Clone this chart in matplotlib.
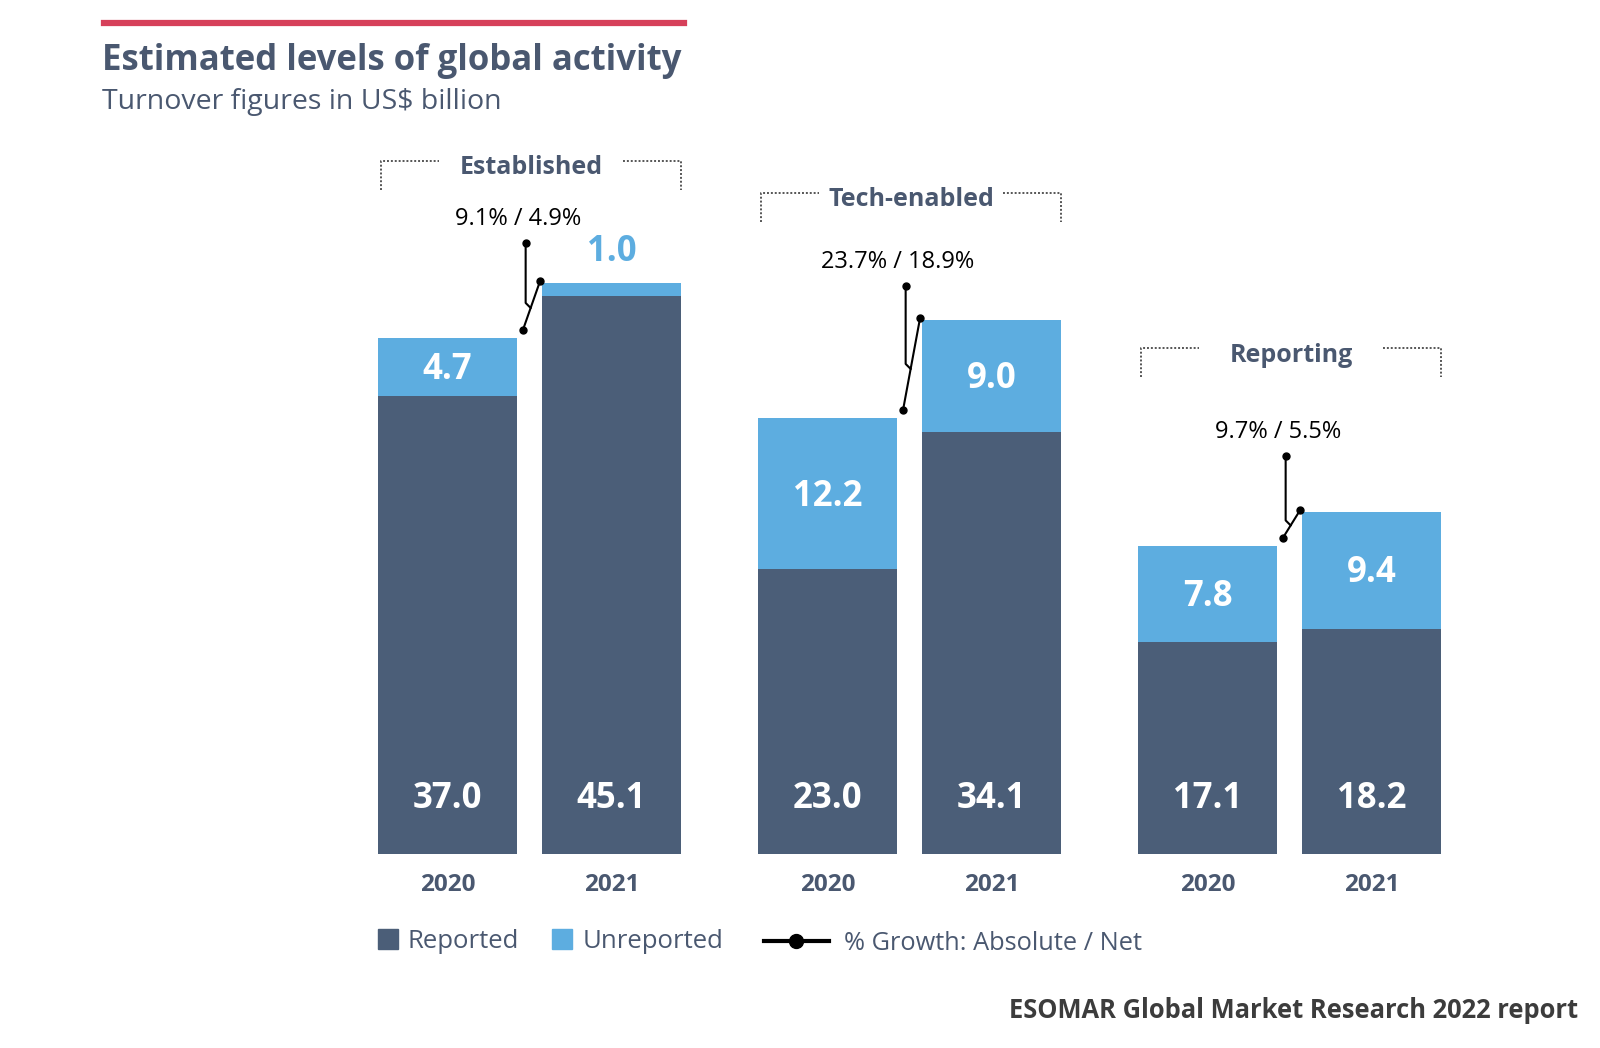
import matplotlib.pyplot as plt
from matplotlib.patches import Rectangle
from matplotlib.lines import Line2D

plt.rcParams['font.family'] = ['Open Sans', 'DejaVu Sans']

# data (US$ billion)
groups = ['Established', 'Tech-enabled', 'Reporting']
years = ['2020', '2021']
reported = [[37.0, 45.1], [23.0, 34.1], [17.1, 18.2]]
unreported = [[4.7, 1.0], [12.2, 9.0], [7.8, 9.4]]
growth = ['9.1% / 4.9%', '23.7% / 18.9%', '9.7% / 5.5%']

DARK = '#4b5e78'
BLUE = '#5dade0'
TXT = '#4a5870'

W, H = 1600, 1048
PX = 12.38       # pixels per billion
BASE = 854       # pixel row of the baseline
BAR_W = 139
X0, GSTEP, YSTEP = 447.5, 380, 164

# per-group layout rows (pixels from top)
growth_row = [219, 262, 432]
bracket_row = [161, 193, 348]


def yp(row):
    return (BASE - row) / PX


fig = plt.figure(figsize=(16, 10.48), dpi=100)
ax = fig.add_axes([0, 0, 1, 1])
ax.set_xlim(0, W)
ax.set_ylim(-(H - BASE) / PX, BASE / PX)
ax.axis('off')

for g in range(3):
    xs = [X0 + g * GSTEP + j * YSTEP for j in range(2)]
    ax.bar(xs, reported[g], width=BAR_W, color=DARK)
    ax.bar(xs, unreported[g], width=BAR_W, bottom=reported[g], color=BLUE)
    tops = [reported[g][j] + unreported[g][j] for j in range(2)]
    for j in range(2):
        ax.text(xs[j], yp(799), f'{reported[g][j]:.1f}', color='white',
                fontsize=25, fontweight='bold', ha='center', va='center')
        if unreported[g][j] >= 2:
            ax.text(xs[j], reported[g][j] + unreported[g][j] / 2 - 3 / PX,
                    f'{unreported[g][j]:.1f}', color='white', fontsize=25,
                    fontweight='bold', ha='center', va='center')
        else:
            ax.text(xs[j], tops[j] + 31 / PX, f'{unreported[g][j]:.1f}',
                    color=BLUE, fontsize=25, fontweight='bold',
                    ha='center', va='center')
        ax.text(xs[j], yp(885), years[j], color=TXT, fontsize=17.5,
                fontweight='bold', ha='center', va='center')

    # bracket + group label
    left = xs[0] - BAR_W / 2 + 3
    right = xs[1] + BAR_W / 2
    top = yp(bracket_row[g])
    bot = yp(bracket_row[g] + 29)
    ax.plot([left, left, left + 58], [bot, top, top], color='#555555',
            lw=1.4, ls=(0, (1, 1)))
    ax.plot([right - 58, right, right], [top, top, bot], color='#555555',
            lw=1.4, ls=(0, (1, 1)))
    ax.text((left + right) / 2, yp(bracket_row[g] + 7), groups[g],
            color=TXT, fontsize=18, fontweight='bold', ha='center', va='center')

    # growth connector
    x1 = xs[0] + BAR_W / 2 + 6
    y1 = tops[0] + 8 / PX
    x2 = xs[1] - BAR_W / 2 - 2
    y2 = tops[1] + 2 / PX
    t = 0.45
    jx, jy = x1 + t * (x2 - x1), y1 + t * (y2 - y1)
    sx = jx - 5
    ax.plot([x1, x2], [y1, y2], color='black', lw=1.5)
    ax.plot([sx, sx, jx], [yp(growth_row[g] + 24), jy + 5 / PX, jy],
            color='black', lw=1.5)
    ax.plot([x1, x2, sx], [y1, y2, yp(growth_row[g] + 24)], 'o',
            color='black', ms=5)
    ax.text(sx - 8, yp(growth_row[g]), growth[g], color='black', fontsize=17,
            ha='center', va='center')


def fx(px):
    return px / W


def fy(py):
    return 1 - py / H


# header
fig.add_artist(Line2D([fx(104), fx(684)], [fy(22.5), fy(22.5)],
                      color='#d6405a', lw=4.5))
fig.text(fx(102), fy(61), 'Estimated levels of global activity', color=TXT,
         fontsize=25, fontweight='bold', va='center')
fig.text(fx(102), fy(102), 'Turnover figures in US$ billion', color=TXT,
         fontsize=20.5, va='center')

# legend
fig.add_artist(Rectangle((fx(378), fy(949)), 20 / W, 20 / H, color=DARK,
                         transform=fig.transFigure))
fig.text(fx(408), fy(942), 'Reported', color=TXT, fontsize=18.5, va='center')
fig.add_artist(Rectangle((fx(552), fy(949)), 20 / W, 20 / H, color=BLUE,
                         transform=fig.transFigure))
fig.text(fx(583), fy(942), 'Unreported', color=TXT, fontsize=18.5,
         va='center')
fig.add_artist(Line2D([fx(764), fx(829)], [fy(941), fy(941)], color='black',
                      lw=3))
fig.add_artist(Line2D([fx(796)], [fy(941)], color='black', marker='o', ms=10))
fig.text(fx(844), fy(944), '% Growth: Absolute / Net', color=TXT,
         fontsize=18.3, va='center')

fig.text(fx(1578), fy(1010), 'ESOMAR Global Market Research 2022 report',
         color='#3c3c3c', fontsize=18.4, fontweight='bold', ha='right',
         va='center')

fig.savefig('out.png', dpi=100)
